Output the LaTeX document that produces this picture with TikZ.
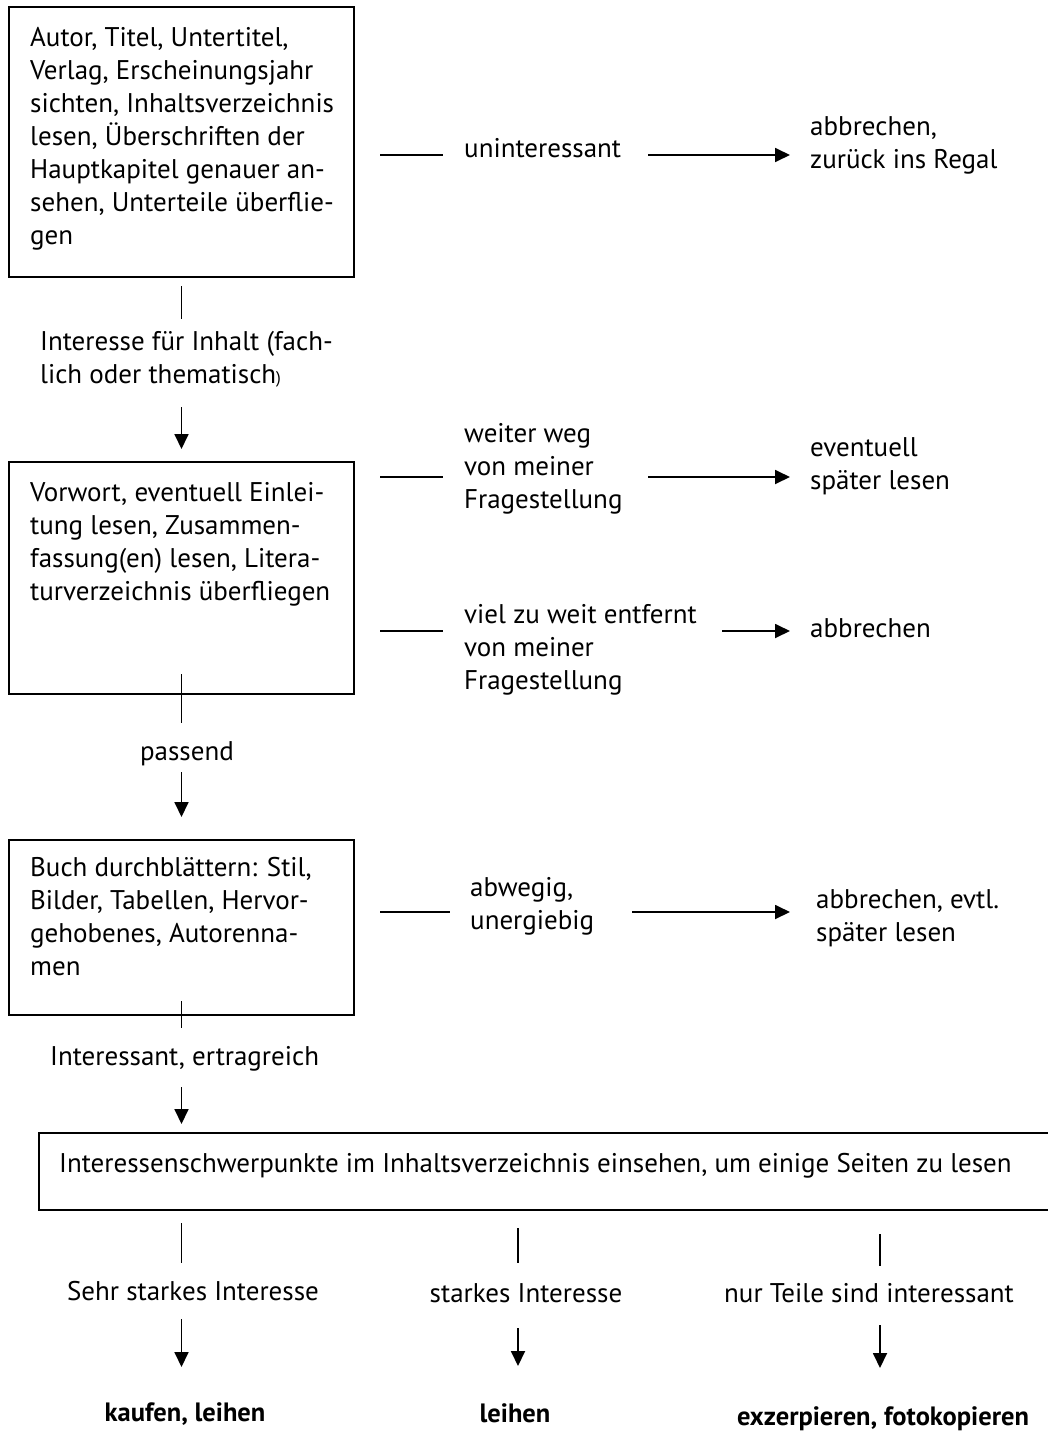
\documentclass[tikz,border=0pt]{standalone}
\usepackage{fontspec}
\setmainfont{PT Sans}
\usetikzlibrary{arrows.meta}

\tikzset{
  frame/.style={draw,line width=2pt,inner sep=0pt},
  boxtext/.style={inner sep=0pt,align=left,anchor=base west,font=\fontsize{27}{33}\selectfont},
  sidetext/.style={inner sep=0pt,align=left,anchor=base west,font=\fontsize{27}{33}\selectfont},
  endtext/.style={inner sep=0pt,anchor=base,font=\bfseries\fontsize{26.5}{33}\selectfont},
  link/.style={line width=1.8pt},
  arr/.style={line width=1.8pt,-{Triangle[length=15pt,width=14pt]}},
}

\begin{document}
\begin{tikzpicture}[x=1pt,y=-1pt]
  \useasboundingbox (0,0) rectangle (1048,1432);
  % left column boxes (text nodes sit on their last baseline)
  \node[frame,minimum width=345pt,minimum height=270pt] at (181.5,142) (b1) {};
  \node[boxtext] at ([xshift=22pt,yshift=-238pt]b1.north west) (t1) {Autor, Titel, Untertitel,\\Verlag, Erscheinungsjahr\\sichten, Inhaltsverzeichnis\\lesen, Überschriften der\\Hauptkapitel genauer an-\\sehen, Unterteile überflie-\\gen};
  \node[frame,minimum width=345pt,minimum height=232pt] at (181.5,578) (b2) {};
  \node[boxtext] at ([xshift=22pt,yshift=-139pt]b2.north west) (t2) {Vorwort, eventuell Einlei-\\tung lesen, Zusammen-\\fassung(en) lesen, Litera-\\turverzeichnis überfliegen};
  \node[frame,minimum width=345pt,minimum height=175pt] at (181.5,927.5) (b3) {};
  \node[boxtext] at ([xshift=22pt,yshift=-136pt]b3.north west) (t3) {Buch durchblättern: Stil,\\Bilder, Tabellen, Hervor-\\gehobenes, Autorenna-\\men};
  \node[frame,minimum width=1021pt,minimum height=77pt] at (549.5,1171.5) (b4) {};
  \node[boxtext] at ([xshift=21pt,yshift=-40pt]b4.north west) (t4) {Interessenschwerpunkte im Inhaltsverzeichnis einsehen, um einige Seiten zu lesen};

  % labels between the boxes
  \node[boxtext] at (40,383) (q1) {Interesse für Inhalt (fach-\\lich oder thematisch{\fontsize{17}{17}\selectfont)}};
  \node[boxtext,anchor=base] at (187,760) (q2) {passend};
  \node[boxtext] at (50,1065) (q3) {Interessant, ertragreich};

  \draw[link] ([yshift=-8pt]b1.south) -- ([yshift=-41pt]b1.south);
  \draw[arr] ([yshift=54pt]b2.north) -- ([yshift=12pt]b2.north);
  \draw[link] ([yshift=21pt]b2.south) -- ([yshift=-28pt]b2.south);
  \draw[arr] ([yshift=67pt]b3.north) -- ([yshift=22pt]b3.north);
  \draw[link] ([yshift=15pt]b3.south) -- ([yshift=-12pt]b3.south);
  \draw[arr] ([yshift=45pt]b4.north -| b3.south) -- ([yshift=8pt]b4.north -| b3.south);

  % side branches
  \coordinate (r1) at (0,155);
  \coordinate (r2) at (0,477);
  \coordinate (r3) at (0,631);
  \coordinate (r4) at (0,912);
  \node[sidetext] at (464,157) (l1) {uninteressant};
  \node[sidetext] at (810,168) (e1) {abbrechen,\\zurück ins Regal};
  \node[sidetext] at (464,508) (l2) {weiter weg\\von meiner\\Fragestellung};
  \node[sidetext] at (810,489) (e2) {eventuell\\später lesen};
  \node[sidetext] at (464,689) (l3) {viel zu weit entfernt\\von meiner\\Fragestellung};
  \node[sidetext] at (810,637) (e3) {abbrechen};
  \node[sidetext] at (470,929) (l4) {abwegig,\\unergiebig};
  \node[sidetext] at (816,941) (e4) {abbrechen, evtl.\\später lesen};

  \draw[link] ([xshift=25pt]b1.east |- r1) -- ([xshift=-21pt]l1.west |- r1);
  \draw[arr] ([xshift=-162pt]e1.west |- r1) -- ([xshift=-20pt]e1.west |- r1);
  \draw[link] ([xshift=25pt]b2.east |- r2) -- ([xshift=-21pt]l2.west |- r2);
  \draw[arr] ([xshift=-162pt]e2.west |- r2) -- ([xshift=-20pt]e2.west |- r2);
  \draw[link] ([xshift=25pt]b2.east |- r3) -- ([xshift=-21pt]l3.west |- r3);
  \draw[arr] ([xshift=-88pt]e3.west |- r3) -- ([xshift=-20pt]e3.west |- r3);
  \draw[link] ([xshift=25pt]b3.east |- r4) -- ([xshift=-20pt]l4.west |- r4);
  \draw[arr] ([xshift=-184pt]e4.west |- r4) -- ([xshift=-26pt]e4.west |- r4);

  % three outcomes
  \node[sidetext,anchor=base] at (193,1300) (k1) {Sehr starkes Interesse};
  \node[sidetext,anchor=base] at (526,1302) (k2) {starkes Interesse};
  \node[sidetext,anchor=base] at (869,1302) (k3) {nur Teile sind interessant};
  \node[endtext] at (185,1421) (f1) {kaufen, leihen};
  \node[endtext] at (515,1422) (f2) {leihen};
  \node[endtext] at (883,1425) (f3) {exzerpieren, fotokopieren};

  \draw[link] ([yshift=-12pt]b4.south -| b3.south) -- ([yshift=-52pt]b4.south -| b3.south);
  \draw[link] ([yshift=-17pt,xshift=3pt]b4.south -| f2) -- ([yshift=-52pt,xshift=3pt]b4.south -| f2);
  \draw[link] ([yshift=-23pt,xshift=-3pt]b4.south -| f3) -- ([yshift=-55pt,xshift=-3pt]b4.south -| f3);
  \draw[arr] ([yshift=102pt]f1.base -| b3.south) -- ([yshift=54pt]f1.base -| b3.south);
  \draw[arr] ([yshift=94pt,xshift=3pt]f2.base) -- ([yshift=56pt,xshift=3pt]f2.base);
  \draw[arr] ([yshift=100pt,xshift=-3pt]f3.base) -- ([yshift=57pt,xshift=-3pt]f3.base);
\end{tikzpicture}
\end{document}
